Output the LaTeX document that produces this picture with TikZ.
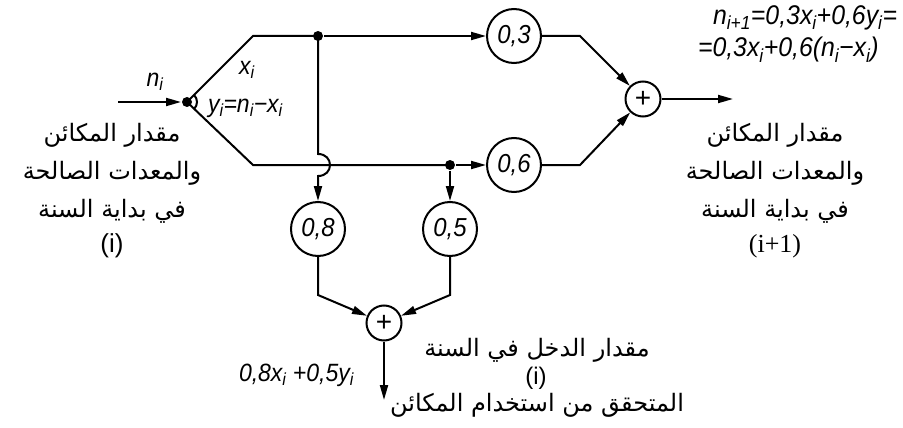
\documentclass[tikz,border=0pt]{standalone}
\usepackage{fontspec}
\setmainfont{Liberation Sans}
\newfontfamily\arabicfont[Script=Arabic]{DejaVu Sans}
\newfontfamily\serfont{Liberation Serif}
\TeXXeTstate=1
\usetikzlibrary{arrows.meta}
\newcommand{\tk}[1]{\scalebox{0.92}[1]{\itshape #1}}
\newcommand{\sbs}[1]{\textsubscript{#1}}
\begin{document}
\begin{tikzpicture}[x=1pt,y=-1pt, line width=2pt,
  circ/.style={circle, draw, minimum size=54pt, inner sep=0pt, font=\fontsize{26}{26}\selectfont},
  sum/.style={circle, draw, minimum size=35pt, inner sep=0pt, font=\fontsize{28}{28}\selectfont},
  junct/.style={circle, fill, inner sep=0pt, minimum size=10pt},
  arr/.style={-{Triangle[length=15pt,width=8pt]}},
  ar/.style={font=\arabicfont\fontsize{24}{28}\selectfont, inner sep=0pt},
  lab/.style={font=\fontsize{25}{25}\selectfont, inner sep=0pt},
  flab/.style={font=\fontsize{27}{27}\selectfont, inner sep=0pt, anchor=west}
]
\useasboundingbox (0,0) rectangle (903,428);
% nodes
\coordinate (in) at (118,102);
\node[junct] (fork) at (187,102) {};
\coordinate (ut) at (253,36);
\coordinate (lt) at (253,165);
\node[junct] (d1) at (318,36) {};
\node[junct] (d2) at (450,165) {};
\node[circ] (c3) at (514,36) {\tk{0,3}};
\node[circ] (c6) at (514,165) {\tk{0,6}};
\node[circ] (c8) at (318,229) {\tk{0,8}};
\node[circ] (c5) at (450,229) {\tk{0,5}};
\node[sum] (s1) at (643,99) {+};
\node[sum] (s2) at (384,323) {+};
\coordinate (out1) at (733,99);
\coordinate (out2) at (384,400);
\coordinate (a3) at (580,36);
\coordinate (a6) at (580,165);
\coordinate (b8) at (318,295);
\coordinate (b5) at (450,295);
\coordinate (h1) at (318,154);
\coordinate (h2) at (318,176);
% connectors
\draw[arr] (in) -- (fork);
\draw (fork.center) -- (ut) -- (d1.center);
\draw (fork.center) -- (lt) -- (d2.center);
\draw ([shift={(45:10pt)}]fork.center) arc[start angle=45, end angle=-45, radius=10pt];
\draw[arr] (d1) -- (c3);
\draw[arr] (d2) -- (c6);
\draw[arr] (d2) -- (c5);
\draw[arr] (d1.center) -- (h1) .. controls (334,154) and (334,176) .. (h2) -- (c8);
\draw[arr] (c3) -- (a3) -- (s1);
\draw[arr] (c6) -- (a6) -- (s1);
\draw[arr] (s1) -- (out1);
\draw[arr] (c8) -- (b8) -- (s2);
\draw[arr] (c5) -- (b5) -- (s2);
\draw[arr] (s2) -- (out2);
% math labels
\node[lab] (lni) at (155,82) {\tk{n\sbs{i}}};
\node[lab] (lxi) at (247,70) {\tk{x\sbs{i}}};
\node[lab, anchor=west] (lyi) at (207,108) {\tk{y\sbs{i}=n\sbs{i}−x\sbs{i}}};
\node[flab] (lf1) at (712,18) {\tk{n\sbs{i+1}=0,3x\sbs{i}+0,6y\sbs{i}=}};
\node[flab] (lf2) at (697,50) {\tk{=0,3x\sbs{i}+0,6(n\sbs{i}−x\sbs{i})}};
\node[lab, anchor=west] (lf3) at (238,375) {\tk{0,8x\sbs{i} +0,5y\sbs{i}}};
% arabic left
\node[ar] (la1) at (112,135) {\beginR مقدار المكائن\endR};
\node[ar] (la2) at (112,173) {\beginR والمعدات الصالحة\endR};
\node[ar] (la3) at (112,211) {\beginR في بداية السنة\endR};
\node[lab, font=\fontsize{26}{26}\selectfont] (la4) at (112,246) {(i)};
% arabic right
\node[ar] (ra1) at (775,135) {\beginR مقدار المكائن\endR};
\node[ar] (ra2) at (775,173) {\beginR والمعدات الصالحة\endR};
\node[ar] (ra3) at (775,211) {\beginR في بداية السنة\endR};
\node[lab, font=\serfont\fontsize{26}{26}\selectfont] (ra4) at (775,246) {(i+1)};
% arabic bottom
\node[ar] (ba1) at (537,350) {\beginR مقدار الدخل في السنة\endR};
\node[lab, font=\fontsize{24}{24}\selectfont] (ba2) at (536,378) {(i)};
\node[ar] (ba3) at (537,405) {\beginR المتحقق من استخدام المكائن\endR};
\end{tikzpicture}
\end{document}
